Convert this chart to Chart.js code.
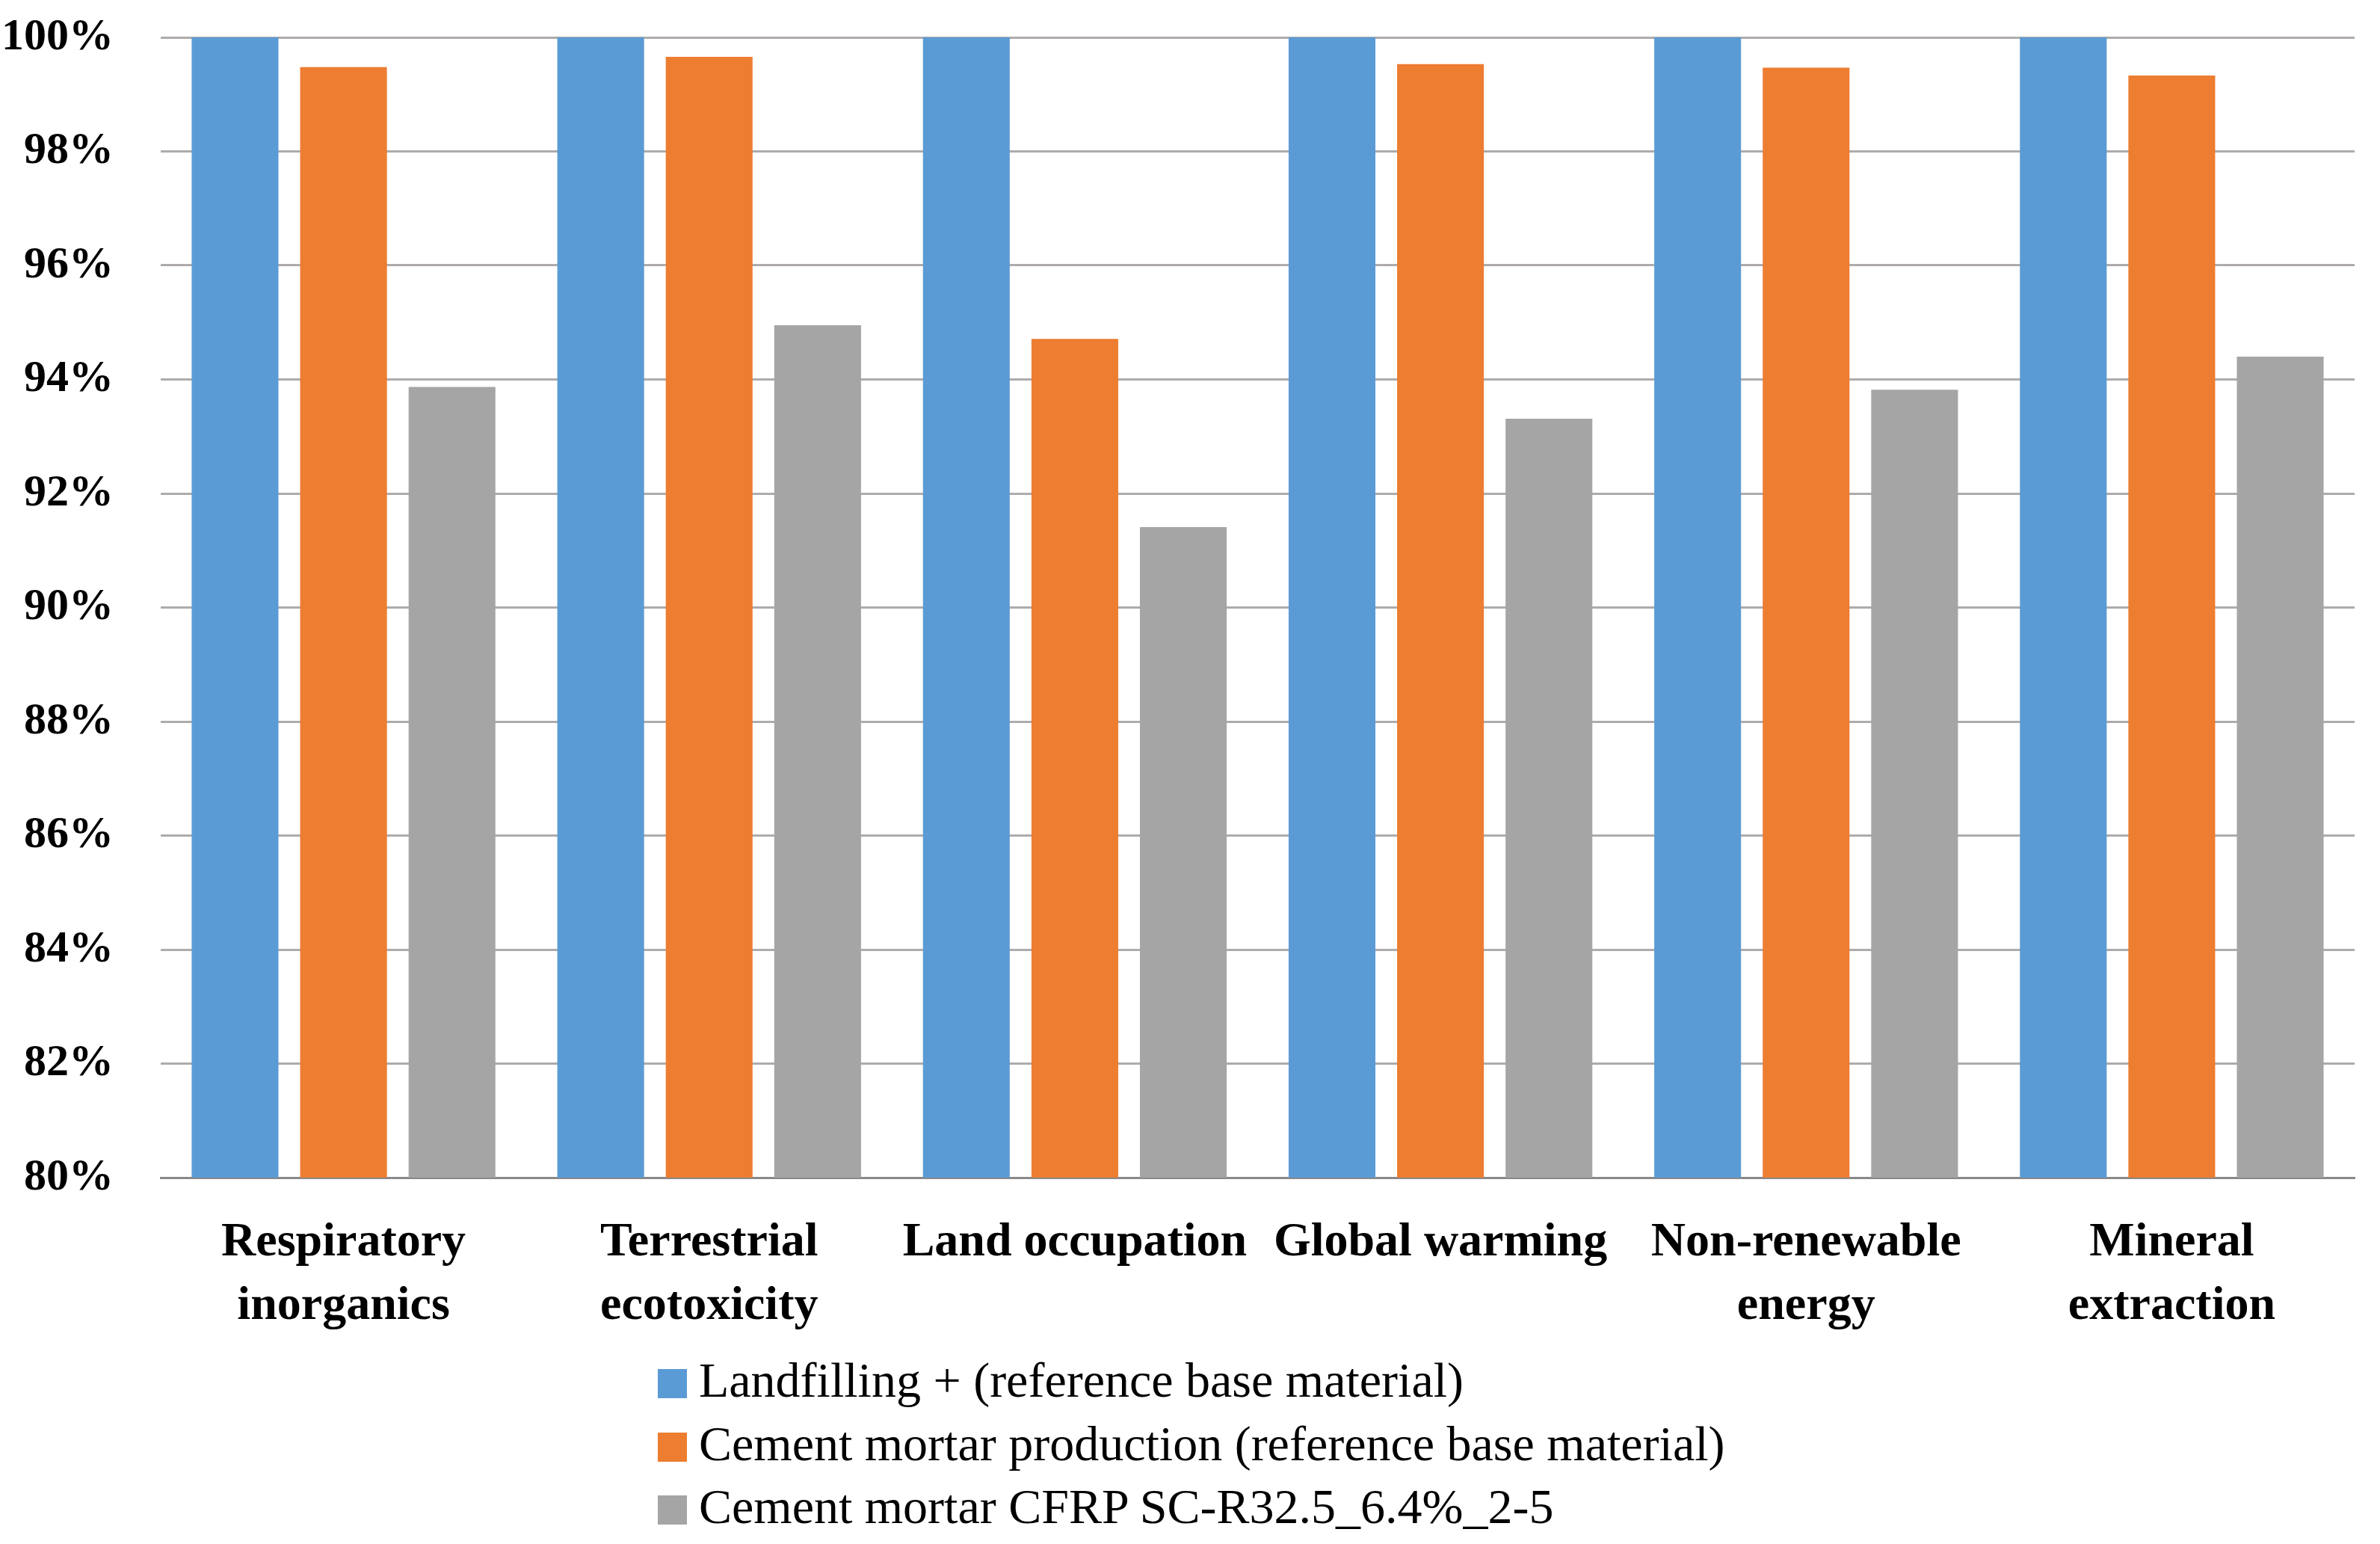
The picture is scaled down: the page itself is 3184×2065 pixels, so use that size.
<!DOCTYPE html>
<html>
<head>
<meta charset="utf-8">
<script src="https://cdn.jsdelivr.net/npm/chart.js@4.4.1/dist/chart.umd.min.js"></script>
<style>
  html, body { margin: 0; padding: 0; background: #fff; }
  #wrap { position: relative; width: 3184px; height: 2065px; }
  #legend {
    position: absolute; left: 880px; top: 1804px;
    font-family: "Liberation Serif", "Times New Roman", serif;
    font-size: 66px; color: #000;
  }
  #legend div { height: 84.5px; line-height: 84.5px; white-space: nowrap; }
  #legend span.box {
    display: inline-block; width: 39px; height: 39px;
    margin-right: 16px; vertical-align: -2px;
  }
</style>
</head>
<body>
<div id="wrap">
  <canvas id="chart" width="3184" height="2065"></canvas>
  <div id="legend"></div>
</div>
<script>
const categories = [
  ["Respiratory", "inorganics"],
  ["Terrestrial", "ecotoxicity"],
  "Land occupation",
  "Global warming",
  ["Non-renewable", "energy"],
  ["Mineral", "extraction"]
];
const seriesNames = [
  "Landfilling + (reference base material)",
  "Cement mortar production (reference base material)",
  "Cement mortar CFRP SC-R32.5_6.4%_2-5"
];
const landfilling = [100, 100, 100, 100, 100, 100];
const cementMortar = [99.48, 99.66, 94.71, 99.53, 99.47, 99.33];
const cementCfrp = [93.87, 94.95, 91.41, 93.31, 93.82, 94.40];
const colors = ["#5B9BD5", "#ED7D31", "#A5A5A5"];
const yMin = 80, yMax = 100, yStep = 2;

const fontFamily = '"Liberation Serif", "Times New Roman", serif';
const seriesValues = [landfilling, cementMortar, cementCfrp];

const ctx = document.getElementById("chart").getContext("2d");
const myChart = new Chart(ctx, {
  type: "bar",
  data: {
    labels: categories,
    datasets: seriesNames.map((name, i) => ({
      label: name,
      data: seriesValues[i],
      backgroundColor: colors[i],
      borderWidth: 0,
      categoryPercentage: 0.89,
      barPercentage: 0.8
    }))
  },
  options: {
    responsive: false,
    animation: false,
    layout: { padding: { top: 50, right: 34, bottom: 0, left: 0 } },
    plugins: {
      legend: { display: false },
      tooltip: { enabled: false }
    },
    scales: {
      x: {
        grid: { display: false, drawTicks: false },
        border: { display: true, color: "#898989", width: 3 },
        ticks: {
          color: "#000",
          padding: 45,
          maxRotation: 0,
          autoSkip: false,
          font: { family: fontFamily, size: 64, weight: "bold", lineHeight: 1.33 }
        },
        afterFit: (scale) => {
          scale.height = 490;
          scale.paddingLeft = 0;
          scale.paddingRight = 0;
        }
      },
      y: {
        min: yMin,
        max: yMax,
        grid: { color: "#AFABAB", lineWidth: 3, drawTicks: false },
        border: { display: false },
        ticks: {
          stepSize: yStep,
          color: "#000",
          padding: 63,
          font: { family: fontFamily, size: 60, weight: "bold" },
          callback: (v) => v + "%"
        },
        afterFit: (scale) => {
          scale.width = 215;
          scale.paddingTop = 0;
          scale.paddingBottom = 0;
        }
      }
    }
  }
});

// legend, stacked and left aligned as in the original
const legendEl = document.getElementById("legend");
myChart.data.datasets.forEach((ds) => {
  const row = document.createElement("div");
  const box = document.createElement("span");
  box.className = "box";
  box.style.background = ds.backgroundColor;
  row.appendChild(box);
  row.appendChild(document.createTextNode(ds.label));
  legendEl.appendChild(row);
});
</script>
</body>
</html>
